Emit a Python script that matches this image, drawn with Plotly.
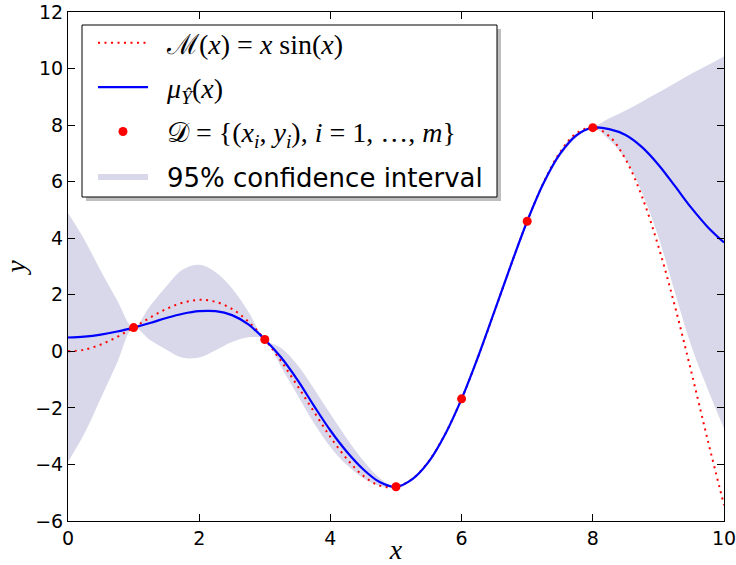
import plotly.graph_objects as go

# ---- data ----
x_grid = [0.0, 0.25, 0.5, 0.75, 1.0, 1.25, 1.5, 1.75, 2.0, 2.25, 2.5, 2.75,
          3.0, 3.25, 3.5, 3.75, 4.0, 4.25, 4.5, 4.75, 5.0, 5.25, 5.5, 5.75,
          6.0, 6.25, 6.5, 6.75, 7.0, 7.25, 7.5, 7.75, 8.0, 8.25, 8.5, 8.75,
          9.0, 9.25, 9.5, 9.75, 10.0]

model_y = [0.00, 0.06, 0.24, 0.51, 0.84, 1.19, 1.50, 1.72, 1.82, 1.75, 1.50, 1.05,
           0.42, -0.35, -1.23, -2.14, -3.03, -3.80, -4.40, -4.75, -4.79, -4.51, -3.88, -2.92,
           -1.68, -0.21, 1.40, 3.04, 4.60, 5.97, 7.04, 7.71, 7.91, 7.61, 6.79, 5.47,
           3.71, 1.61, -0.71, -3.12, -5.44]

mean_y = [0.49, 0.52, 0.59, 0.70, 0.84, 1.00, 1.18, 1.33, 1.42, 1.42, 1.28, 0.95,
          0.42, -0.22, -1.02, -1.93, -2.80, -3.55, -4.17, -4.62, -4.79, -4.52, -3.90, -2.93,
          -1.68, -0.20, 1.41, 3.04, 4.60, 5.95, 6.98, 7.64, 7.91, 7.86, 7.65, 7.22,
          6.60, 5.85, 5.08, 4.40, 3.85]

lower_y = [-3.91, -2.91, -1.66, -0.40, 0.84, 0.40, 0.06, -0.23, -0.22, 0.04, 0.33, 0.50,
           0.42, -0.56, -1.55, -2.54, -3.38, -4.02, -4.48, -4.76, -4.79, -4.56, -3.96, -2.97,
           -1.68, -0.24, 1.35, 3.00, 4.60, 5.89, 6.88, 7.56, 7.91, 7.48, 6.78, 5.61,
           4.05, 2.10, 0.20, -1.32, -2.73]

upper_y = [4.89, 3.95, 2.84, 1.80, 0.84, 1.60, 2.30, 2.89, 3.06, 2.80, 2.23, 1.40,
           0.42, 0.12, -0.49, -1.32, -2.22, -3.08, -3.86, -4.48, -4.79, -4.48, -3.84, -2.89,
           -1.68, -0.16, 1.47, 3.08, 4.60, 6.01, 7.08, 7.72, 7.91, 8.24, 8.52, 8.83,
           9.15, 9.48, 9.82, 10.12, 10.43]

x_obs = [1, 3, 5, 6, 7, 8]
y_obs = [0.84, 0.42, -4.79, -1.68, 4.60, 7.91]

x_ticks = [0, 2, 4, 6, 8, 10]
y_ticks = [-6, -4, -2, 0, 2, 4, 6, 8, 10, 12]

PAD = "\u00a0\u00a0"
name_model = PAD + "ℳ(<i>x</i>) = <i>x</i> sin(<i>x</i>)"
name_mean = PAD + "<i>μ</i><sub><i>Ŷ</i></sub>(<i>x</i>)"
name_obs = PAD + "𝒟 = {(<i>x<sub>i</sub></i>, <i>y<sub>i</sub></i>), <i>i</i> = 1, …, <i>m</i>}"
name_band = PAD + '<span style="font-family:DejaVu Sans;font-size:26px">95% confidence interval</span>'

BAND = "rgb(216,216,234)"

W, H = 736, 565
PL, PR, PT, PB = 68, 724, 12, 521          # plot area in pixels
PW, PH = PR - PL, PB - PT


def px(xpix):
    return (xpix - PL) / PW


def py(ypix):
    return 1 - (ypix - PT) / PH


fig = go.Figure()

fig.add_trace(go.Scatter(
    x=x_grid, y=lower_y, mode="lines", line=dict(width=0, shape="spline"),
    showlegend=False, legendgroup="d", hoverinfo="skip"))
fig.add_trace(go.Scatter(
    x=x_grid, y=upper_y, mode="lines", line=dict(width=0, shape="spline"),
    fill="tonexty", fillcolor=BAND, name=name_band, legendgroup="d",
    legendrank=4))

fig.add_trace(go.Scatter(
    x=x_grid, y=model_y, mode="lines", name=name_model, legendgroup="a",
    line=dict(color="red", width=2, dash="2px,4.5px", shape="spline"),
    legendrank=1))
fig.add_trace(go.Scatter(
    x=x_grid, y=mean_y, mode="lines", name=name_mean, legendgroup="b",
    line=dict(color="blue", width=2.2, shape="spline"),
    legendrank=2))
fig.add_trace(go.Scatter(
    x=x_obs, y=y_obs, mode="markers", name=name_obs, legendgroup="c",
    marker=dict(color="red", size=9, line=dict(width=0)),
    legendrank=3))

# legend frame with drop shadow
fig.add_shape(type="rect", xref="paper", yref="paper",
              x0=px(86), x1=px(501), y0=py(201), y1=py(29),
              fillcolor="rgb(190,190,190)", line=dict(width=0), layer="above")
fig.add_shape(type="rect", xref="paper", yref="paper",
              x0=px(82), x1=px(497), y0=py(197), y1=py(25),
              fillcolor="white", line=dict(color="black", width=1), layer="above")

axis_common = dict(
    showline=True, linecolor="black", linewidth=1, mirror="ticks",
    ticks="inside", ticklen=7, tickwidth=1, tickcolor="black",
    showgrid=False, zeroline=False, ticklabeloverflow="allow",
    tickfont=dict(family="DejaVu Sans", size=19, color="black"),
)

fig.update_layout(
    width=W, height=H,
    margin=dict(l=PL, r=W - PR, t=PT, b=H - PB, autoexpand=False),
    paper_bgcolor="white", plot_bgcolor="white",
    xaxis=dict(range=[0, 10], tickvals=x_ticks, **axis_common,
               title=dict(text="<i>x</i>", standoff=0,
                          font=dict(family="Liberation Serif", size=28, color="black"))),
    yaxis=dict(range=[-6, 12], tickvals=y_ticks, **axis_common,
               title=dict(text="<i>y</i>", standoff=6,
                          font=dict(family="Liberation Serif", size=28, color="black"))),
    legend=dict(
        x=px(93), y=py(18), xanchor="left", yanchor="top",
        bgcolor="rgba(0,0,0,0)", borderwidth=0,
        font=dict(family="Liberation Serif", size=28, color="black"),
        tracegroupgap=5, itemwidth=50,
    ),
    showlegend=True,
)

fig.write_html("out.html",
               config={"displayModeBar": False},
               post_script="document.body.style.margin='0px';")
